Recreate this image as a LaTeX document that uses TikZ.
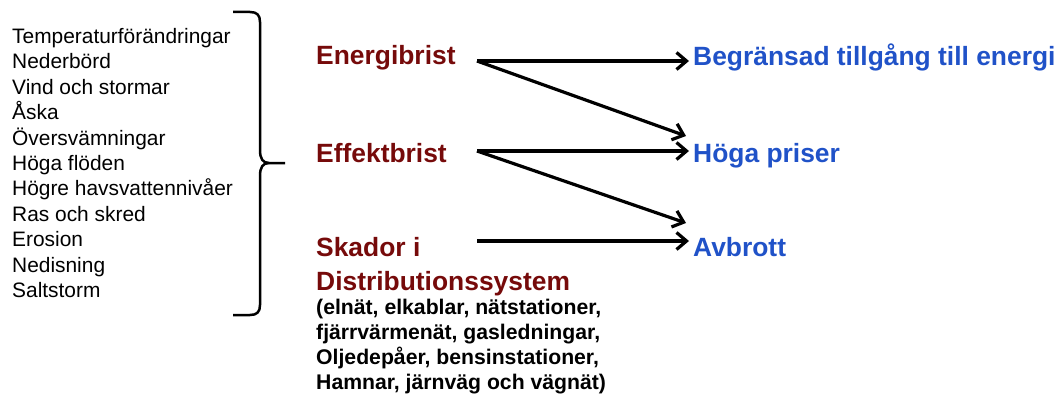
\documentclass[tikz,border=0pt]{standalone}
\usepackage{fontspec}
\setmainfont{Liberation Sans}
\usetikzlibrary{arrows.meta}
\definecolor{cause}{RGB}{118,10,10}
\definecolor{effect}{RGB}{32,82,200}
\tikzset{
  listitem/.style={anchor=base west, inner sep=0pt, font=\fontsize{20.9}{24}\selectfont},
  head/.style={anchor=base west, inner sep=0pt, text=cause, font=\fontsize{26.4}{30}\selectfont\bfseries},
  result/.style={anchor=base west, inner sep=0pt, text=effect, font=\fontsize{26.4}{30}\selectfont\bfseries},
  detail/.style={anchor=base west, inner sep=0pt, font=\fontsize{21.2}{25}\selectfont\bfseries},
  arr/.style={line width=3.2pt, -{Straight Barb[length=10pt,width=17pt,line width=3.2pt]}},
  bracestroke/.style={line width=2.5pt, line join=round}
}
\begin{document}
\begin{tikzpicture}[x=1pt,y=-1pt]
\useasboundingbox (0,0) rectangle (1061,396);
% left list
\foreach \t [count=\i from 0] in {Temperaturförändringar,Nederbörd,Vind och stormar,Åska,Översvämningar,Höga flöden,Högre havsvattennivåer,Ras och skred,Erosion,Nedisning,Saltstorm}
  \node[listitem] (l\i) at (12,{43.5+25.4*\i}) {\t};
% brace
\draw[bracestroke] (233,12) -- (250,12) .. controls (257,12) and (260,15) .. (260,22)
  -- (260,150) .. controls (260,159) and (263,163) .. (269,163) -- (285,163);
\draw[bracestroke] (269,163) .. controls (263,163) and (260,167) .. (260,176)
  -- (260,305) .. controls (260,312) and (257,315) .. (250,315) -- (233,315);
% causes
\node[head] (c1) at (316,65) {Energibrist};
\node[head] (c2) at (316,162) {Effektbrist};
\node[head] (c3) at (316,256) {Skador i};
\node[head] (c3b) at (316,290) {Distributionssystem};
\node[detail] (d1) at (316,314) {(elnät, elkablar, nätstationer,};
\node[detail] (d2) at (316,339) {fjärrvärmenät, gasledningar,};
\node[detail] (d3) at (316,364) {Oljedepåer, bensinstationer,};
\node[detail] (d4) at (316,389) {Hamnar, järnväg och vägnät)};
% effects
\node[result] (r1) at (693,66) {Begränsad tillgång till energi};
\node[result] (r2) at (693,162) {Höga priser};
\node[result] (r3) at (693,256) {Avbrott};
% arrow anchors
\coordinate (s1) at (477,61);
\coordinate (s2) at (477,151);
\coordinate (s3) at (477,241);
\coordinate (e1) at (689,61);
\coordinate (e1b) at (686,136);
\coordinate (e2) at (689,151);
\coordinate (e2b) at (686,223);
\coordinate (e3) at (689,241);
\draw[arr] (s1) -- (e1);
\draw[arr] (s1) -- (e1b);
\draw[arr] (s2) -- (e2);
\draw[arr] (s2) -- (e2b);
\draw[arr] (s3) -- (e3);
\end{tikzpicture}
\end{document}
